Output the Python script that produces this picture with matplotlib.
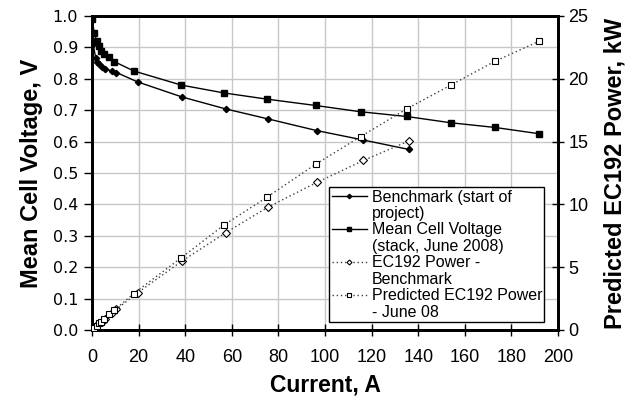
import matplotlib
matplotlib.use("Agg")
import matplotlib.pyplot as plt
from matplotlib.lines import Line2D

# Benchmark (start of project): current (A), mean cell voltage (V), EC192 power (kW)
bench_current = [0.5, 1.6, 2.2, 3.2, 4.2, 5.5, 8.5, 10.5, 19.6, 38.7, 57.4, 75.7, 96.5, 116.5, 136.0]
bench_voltage = [0.91, 0.866, 0.855, 0.848, 0.838, 0.831, 0.825, 0.82, 0.79, 0.742, 0.704, 0.672, 0.635, 0.605, 0.575]
bench_power = [0.09, 0.27, 0.36, 0.52, 0.67, 0.88, 1.35, 1.65, 2.97, 5.5, 7.75, 9.8, 11.75, 13.5, 15.05]

# Mean cell voltage (stack, June 2008)
june_current = [0.0, 1.0, 2.0, 3.0, 3.7, 5.0, 7.5, 9.5, 17.9, 38.3, 56.6, 75.3, 96.0, 115.3, 135.0, 154.0, 173.0, 192.0]
june_voltage = [0.99, 0.945, 0.92, 0.905, 0.89, 0.88, 0.87, 0.855, 0.825, 0.78, 0.755, 0.735, 0.715, 0.695, 0.68, 0.66, 0.645, 0.625]
june_power = [0.0, 0.18, 0.35, 0.52, 0.63, 0.85, 1.25, 1.57, 2.9, 5.75, 8.35, 10.6, 13.2, 15.4, 17.6, 19.5, 21.4, 23.0]

label_bench = ["Benchmark (start of", "project)"]
label_june = ["Mean Cell Voltage", "(stack, June 2008)"]
label_bench_p = ["EC192 Power -", "Benchmark"]
label_june_p = ["Predicted EC192 Power", "- June 08"]

x_ticks = list(range(0, 201, 20))
y_ticks = [i / 10 for i in range(0, 11)]
y2_ticks = [0, 5, 10, 15, 20, 25]

sans = ["Liberation Sans", "DejaVu Sans"]

fig = plt.figure(figsize=(6.36, 4.04), dpi=100)
ax = fig.add_axes([92 / 636, 74 / 404, 466 / 636, 314 / 404])
ax2 = ax.twinx()

ax.set_xlim(0, 200)
ax.set_ylim(0, 1.0)
ax2.set_ylim(0, 25)

ax.set_xticks(x_ticks)
ax.set_yticks(y_ticks)
ax2.set_yticks(y2_ticks)
ax.set_yticklabels([f"{v:.1f}" for v in y_ticks], fontfamily="DejaVu Sans", fontsize=11.5)
ax.set_xticklabels([str(v) for v in x_ticks], fontfamily=sans, fontsize=13)
ax2.set_yticklabels([str(v) for v in y2_ticks], fontfamily=sans, fontsize=13)

ax.grid(True, color="#c8c8c8", linewidth=1.0)
ax.set_axisbelow(True)

h1, = ax.plot(bench_current, bench_voltage, color="black", linewidth=1.0,
              marker="D", markersize=3.2, markerfacecolor="black", markeredgecolor="black",
              zorder=3)
h2, = ax.plot(june_current, june_voltage, color="black", linewidth=1.0,
              marker="s", markersize=5, markerfacecolor="black", markeredgecolor="black",
              zorder=3)
h3, = ax2.plot(bench_current, bench_power, color="#404040", linewidth=1.0, linestyle=(0, (1, 2)),
               marker="D", markersize=3.6, markerfacecolor="white", markeredgecolor="black",
               markeredgewidth=0.8, zorder=3)
h4, = ax2.plot(june_current, june_power, color="#404040", linewidth=1.0, linestyle=(0, (1, 2)),
               marker="s", markersize=4.8, markerfacecolor="white", markeredgecolor="black",
               markeredgewidth=0.8, zorder=3)

for a in (ax, ax2):
    for s in a.spines.values():
        s.set_linewidth(2.0)
        s.set_color("black")

ax.tick_params(axis="x", direction="inout", length=8, width=1, pad=10)
ax.tick_params(axis="y", direction="out", length=6, width=1, pad=4)
ax2.tick_params(axis="y", direction="inout", length=9, width=1, pad=3)

ax.set_xlabel("Current, A", fontfamily=sans, fontsize=16.5, fontweight="bold", labelpad=5)
ax.set_ylabel("Mean Cell Voltage, V", fontfamily=sans, fontsize=17, fontweight="bold", labelpad=7)
ax2.set_ylabel("Predicted EC192 Power, kW", fontfamily=sans, fontsize=17, fontweight="bold", labelpad=11)

blank = Line2D([], [], linestyle="none", marker=None)
handles, labels = [], []
for h, lab in ((h1, label_bench), (h2, label_june), (h3, label_bench_p), (h4, label_june_p)):
    handles += [h, blank]
    labels += lab

leg = ax2.legend(handles=handles, labels=labels, loc="upper left", bbox_to_anchor=(0.509, 0.455),
                 borderaxespad=0, frameon=True, fancybox=False, framealpha=1,
                 edgecolor="black", prop={"family": sans, "size": 11.5},
                 labelspacing=0.09, handlelength=2.2, handletextpad=0.3,
                 borderpad=0.15, markerscale=0.7)
leg.get_frame().set_linewidth(1.0)

fig.savefig("out.png", dpi=100)
